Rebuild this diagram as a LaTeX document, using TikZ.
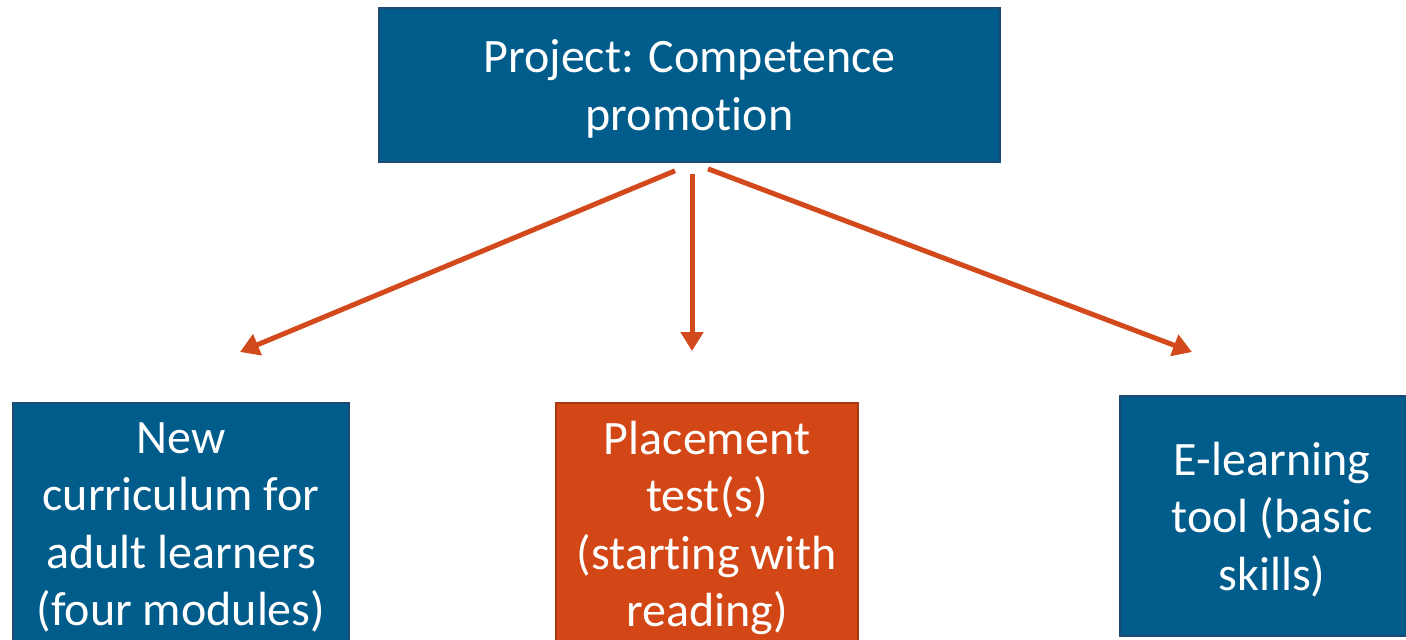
\documentclass[tikz,border=0pt]{standalone}
\usepackage{fontspec}
\setmainfont[Ligatures=CommonOff]{Carlito}
\usetikzlibrary{arrows.meta}
\definecolor{boxblue}{RGB}{0,92,139}
\definecolor{boxedge}{RGB}{28,74,115}
\definecolor{boxorange}{RGB}{211,71,22}
\definecolor{orangeedge}{RGB}{168,58,18}
\definecolor{arrorange}{RGB}{210,74,28}
\tikzset{box/.style={draw=boxedge, line width=0.8pt, fill=boxblue, text=white, align=center, inner sep=0pt, text depth=0pt, font=\fontsize{24}{28.75}\selectfont},
  hotbox/.style={box, draw=orangeedge, fill=boxorange},
  link/.style={arrorange, line width=2.5pt, -{Triangle[width=11pt,length=9.5pt]}}}

\begin{document}
\begin{tikzpicture}[x=0.5pt,y=-0.5pt]
  \useasboundingbox (0,0) rectangle (1406,639);
  \node[box, minimum width=310.5pt, minimum height=77pt] (project) at (689.5,85) {Project: Competence\\promotion};
  \node[box, minimum width=168pt, minimum height=121pt] (curriculum) at (181,524) {New\\curriculum for\\adult learners\\(four modules)};
  \node[hotbox, minimum width=151pt, minimum height=121pt] (placement) at (707,524) {Placement\\test(s)\\(starting with\\reading)};
  \node[box, minimum width=152pt, minimum height=120pt] (elearning) at (1272,516) {E-learning\\tool (basic\\skills)};
  \coordinate (tipcurr) at (240,352);
  \coordinate (tipplace) at (692,351);
  \coordinate (tiplearn) at (1192,352);
  \draw[link] ([xshift=-7.25pt,yshift=-4pt]project.south) -- (tipcurr);
  \draw[link] ([xshift=1.25pt,yshift=-5.5pt]project.south) -- (tipplace);
  \draw[link] ([xshift=9.25pt,yshift=-3pt]project.south) -- (tiplearn);
\end{tikzpicture}
\end{document}
